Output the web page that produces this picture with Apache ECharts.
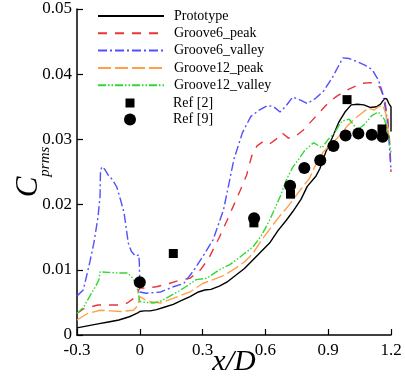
<!DOCTYPE html>
<html>
<head>
<meta charset="utf-8">
<script src="https://cdn.jsdelivr.net/npm/echarts@6/dist/echarts.min.js"></script>
<style>
  html, body { margin: 0; padding: 0; background: #fff; }
  #chart { width: 405px; height: 383px; }
</style>
</head>
<body>
<div id="chart"></div>
<script>
// x/D positions and Cprms values
const protoX = [-0.3, -0.25, -0.2, -0.15, -0.1, -0.05, -0.03, -0.01, 0, 0.02, 0.05, 0.08, 0.12, 0.16, 0.2, 0.24, 0.28, 0.31, 0.34, 0.38, 0.42, 0.46, 0.5, 0.54, 0.58, 0.62, 0.66, 0.7, 0.73, 0.77, 0.8, 0.84, 0.86, 0.89, 0.92, 0.95, 0.98, 1.01, 1.04, 1.07, 1.1, 1.13, 1.15, 1.17, 1.18, 1.19, 1.2, 1.2];
const protoY = [0.0011, 0.0014, 0.0017, 0.0020, 0.0023, 0.0028, 0.0031, 0.0034, 0.0036, 0.0037, 0.0037, 0.0039, 0.0043, 0.0047, 0.0053, 0.0059, 0.0066, 0.0069, 0.0070, 0.0075, 0.0082, 0.0092, 0.0102, 0.0115, 0.0128, 0.0141, 0.0160, 0.0176, 0.0189, 0.0208, 0.0228, 0.0243, 0.0255, 0.0282, 0.0303, 0.0326, 0.0342, 0.0353, 0.0354, 0.0353, 0.0349, 0.0350, 0.0354, 0.0363, 0.0362, 0.0355, 0.0350, 0.0312];

const g6PeakX = [-0.3, -0.27, -0.2, -0.15, -0.1, -0.06, -0.03, -0.01, 0, 0.02, 0.08, 0.14, 0.19, 0.24, 0.29, 0.33, 0.38, 0.42, 0.45, 0.48, 0.51, 0.535, 0.56, 0.59, 0.62, 0.65, 0.68, 0.71, 0.74, 0.78, 0.82, 0.86, 0.9, 0.94, 0.98, 1.02, 1.06, 1.1, 1.13, 1.15, 1.17, 1.185, 1.195, 1.2];
const g6PeakY = [0.0033, 0.0040, 0.0046, 0.0046, 0.0046, 0.0049, 0.0056, 0.0066, 0.0072, 0.0072, 0.0074, 0.0079, 0.0084, 0.0087, 0.0100, 0.0118, 0.0150, 0.0178, 0.0200, 0.0222, 0.0245, 0.0275, 0.0290, 0.0297, 0.0293, 0.0300, 0.0310, 0.0302, 0.0304, 0.0314, 0.0328, 0.0342, 0.0356, 0.0366, 0.0374, 0.0380, 0.0386, 0.0387, 0.0386, 0.0378, 0.0360, 0.0330, 0.0290, 0.0250];

const g6ValleyX = [-0.3, -0.27, -0.24, -0.22, -0.2, -0.19, -0.188, -0.182, -0.17, -0.15, -0.13, -0.11, -0.09, -0.075, -0.055, -0.04, -0.02, -0.005, -0.002, 0, 0.03, 0.1, 0.16, 0.21, 0.26, 0.3, 0.35, 0.4, 0.45, 0.49, 0.53, 0.57, 0.61, 0.64, 0.67, 0.7, 0.73, 0.77, 0.8, 0.84, 0.88, 0.92, 0.95, 0.97, 1.0, 1.04, 1.08, 1.11, 1.14, 1.16, 1.18, 1.19, 1.2];
const g6ValleyY = [0.0060, 0.0069, 0.0110, 0.0140, 0.0180, 0.0212, 0.0250, 0.0258, 0.0255, 0.0245, 0.0238, 0.0227, 0.0205, 0.0187, 0.0141, 0.0128, 0.0121, 0.0123, 0.0110, 0.0066, 0.0064, 0.0066, 0.0074, 0.0079, 0.0100, 0.0120, 0.0146, 0.0192, 0.0270, 0.0310, 0.0335, 0.0345, 0.0352, 0.0350, 0.0342, 0.0352, 0.0365, 0.0360, 0.0355, 0.0363, 0.0375, 0.0395, 0.0413, 0.0425, 0.0424, 0.0419, 0.0413, 0.0407, 0.0391, 0.0371, 0.0335, 0.0300, 0.0253];

const g12PeakX = [-0.3, -0.25, -0.19, -0.14, -0.09, -0.03, -0.01, 0, 0.02, 0.05, 0.1, 0.14, 0.19, 0.24, 0.3, 0.35, 0.4, 0.46, 0.5, 0.54, 0.58, 0.62, 0.67, 0.71, 0.74, 0.78, 0.81, 0.85, 0.88, 0.92, 0.95, 0.99, 1.02, 1.06, 1.09, 1.12, 1.14, 1.16, 1.175, 1.19, 1.2];
const g12PeakY = [0.0023, 0.0033, 0.0038, 0.0037, 0.0036, 0.0038, 0.0045, 0.0059, 0.0055, 0.0051, 0.0049, 0.0054, 0.0060, 0.0066, 0.0079, 0.0085, 0.0091, 0.0103, 0.0112, 0.0125, 0.0145, 0.0162, 0.0183, 0.0198, 0.0211, 0.0228, 0.0240, 0.0268, 0.0282, 0.0295, 0.0304, 0.0320, 0.0330, 0.0340, 0.0348, 0.0345, 0.0350, 0.0353, 0.0340, 0.0304, 0.0300];

const g12ValleyX = [-0.3, -0.27, -0.24, -0.21, -0.195, -0.19, -0.15, -0.1, -0.06, -0.04, -0.015, -0.005, 0, 0.03, 0.065, 0.1, 0.14, 0.19, 0.22, 0.27, 0.32, 0.38, 0.43, 0.46, 0.5, 0.54, 0.58, 0.62, 0.67, 0.7, 0.73, 0.76, 0.79, 0.83, 0.87, 0.9, 0.93, 0.965, 1.0, 1.04, 1.07, 1.11, 1.14, 1.17, 1.185, 1.2];
const g12ValleyY = [0.0033, 0.0042, 0.0059, 0.0075, 0.0085, 0.0097, 0.0096, 0.0095, 0.0095, 0.0090, 0.0077, 0.0060, 0.0051, 0.0050, 0.0049, 0.0052, 0.0059, 0.0068, 0.0074, 0.0085, 0.0087, 0.0100, 0.0108, 0.0115, 0.0125, 0.0135, 0.0152, 0.0176, 0.0212, 0.0238, 0.0257, 0.0270, 0.0284, 0.0295, 0.0287, 0.0300, 0.0310, 0.0328, 0.0331, 0.0315, 0.0322, 0.0337, 0.0342, 0.0330, 0.0310, 0.0280];

const ref2X = [0.16, 0.545, 0.72, 0.99, 1.157];
const ref2Y = [0.0125, 0.0172, 0.0216, 0.0361, 0.0316];

const ref9X = [0.0, 0.546, 0.718, 0.786, 0.862, 0.925, 0.983, 1.044, 1.108, 1.16];
const ref9Y = [0.0081, 0.0179, 0.0229, 0.0256, 0.0268, 0.0290, 0.0306, 0.0309, 0.0307, 0.0304];

const zip = (xs, ys) => xs.map((x, i) => [x, ys[i]]);
const serif = 'Liberation Serif, Times New Roman, serif';
const fmt = (v) => (v === 0 ? '0' : String(+v.toFixed(2)));
const legendText = { fontFamily: serif, fontSize: 14, color: '#000' };

const lineSeries = (name, xs, ys, color, dash) => ({
  name,
  type: 'line',
  data: zip(xs, ys),
  symbol: 'none',
  itemStyle: { color },
  lineStyle: { color, width: 1.4, type: dash },
  z: 3,
});

const chart = echarts.init(document.getElementById('chart'), null, { renderer: 'canvas' });

const option = {
  animation: false,
  backgroundColor: '#fff',
  textStyle: { fontFamily: serif, color: '#000' },
  grid: { left: 77, right: 14, top: 9, bottom: 48, containLabel: false, outerBoundsMode: 'none' },
  legend: [
    {
      orient: 'vertical',
      left: 97,
      top: 9,
      padding: 0,
      itemWidth: 66,
      itemHeight: 12,
      itemGap: 3.3,
      // hide the marker dot drawn on line legend icons
      itemStyle: { opacity: 0 },
      data: ['Prototype', 'Groove6_peak', 'Groove6_valley', 'Groove12_peak', 'Groove12_valley'],
      textStyle: { ...legendText, padding: [0, 0, 0, 5] },
    },
    {
      orient: 'vertical',
      left: 125.5,
      top: 96,
      padding: 0,
      itemWidth: 9,
      itemHeight: 9,
      data: [{ name: 'Ref [2]', icon: 'rect' }],
      textStyle: { ...legendText, padding: [0, 0, 0, 33.5] },
    },
    {
      orient: 'vertical',
      left: 124,
      top: 112.5,
      padding: 0,
      itemWidth: 12,
      itemHeight: 12,
      data: [{ name: 'Ref [9]', icon: 'circle' }],
      textStyle: { ...legendText, padding: [0, 0, 0, 32] },
    },
  ],
  xAxis: {
    type: 'value',
    min: -0.3,
    max: 1.2,
    interval: 0.3,
    name: 'x/D',
    nameLocation: 'middle',
    nameGap: 12,
    nameMoveOverlap: false,
    nameTextStyle: { fontFamily: serif, fontSize: 30, fontStyle: 'italic', color: '#000' },
    axisLine: { onZero: false, lineStyle: { color: '#000', width: 1.5 } },
    axisTick: { inside: true, length: 6, lineStyle: { color: '#000', width: 1.2 } },
    axisLabel: { fontFamily: serif, fontSize: 17, color: '#000', margin: 7, formatter: fmt },
    splitLine: { show: false },
  },
  yAxis: {
    type: 'value',
    min: 0,
    max: 0.05,
    interval: 0.01,
    name: '{c|C}{s|prms}',
    nameLocation: 'middle',
    nameRotate: 90,
    nameGap: 33,
    nameMoveOverlap: false,
    nameTextStyle: {
      rich: {
        c: { fontFamily: serif, fontSize: 31, fontStyle: 'italic', color: '#000', verticalAlign: 'bottom' },
        s: { fontFamily: serif, fontSize: 15, fontStyle: 'italic', color: '#000', verticalAlign: 'bottom', padding: [0, 0, -9, 0] },
      },
    },
    axisLine: { show: true, onZero: false, lineStyle: { color: '#000', width: 1.5 } },
    axisTick: { show: true, inside: true, length: 6, lineStyle: { color: '#000', width: 1.2 } },
    axisLabel: { fontFamily: serif, fontSize: 17, color: '#000', margin: 5, formatter: fmt },
    splitLine: { show: false },
  },
  series: [
    lineSeries('Prototype', protoX, protoY, '#000000', 'solid'),
    lineSeries('Groove6_peak', g6PeakX, g6PeakY, '#e8353a', [9, 8]),
    lineSeries('Groove6_valley', g6ValleyX, g6ValleyY, '#5050ff', [9, 3, 2, 3]),
    lineSeries('Groove12_peak', g12PeakX, g12PeakY, '#ffa04a', [13, 4]),
    lineSeries('Groove12_valley', g12ValleyX, g12ValleyY, '#30d830', [8, 2, 1.5, 2, 1.5, 2]),
    {
      name: 'Ref [2]',
      type: 'scatter',
      data: zip(ref2X, ref2Y),
      symbol: 'rect',
      symbolSize: 9,
      itemStyle: { color: '#000', opacity: 1 },
      z: 4,
    },
    {
      name: 'Ref [9]',
      type: 'scatter',
      data: zip(ref9X, ref9Y),
      symbol: 'circle',
      symbolSize: 12,
      itemStyle: { color: '#000', opacity: 1 },
      z: 4,
    },
  ],
};

chart.setOption(option);
</script>
</body>
</html>
